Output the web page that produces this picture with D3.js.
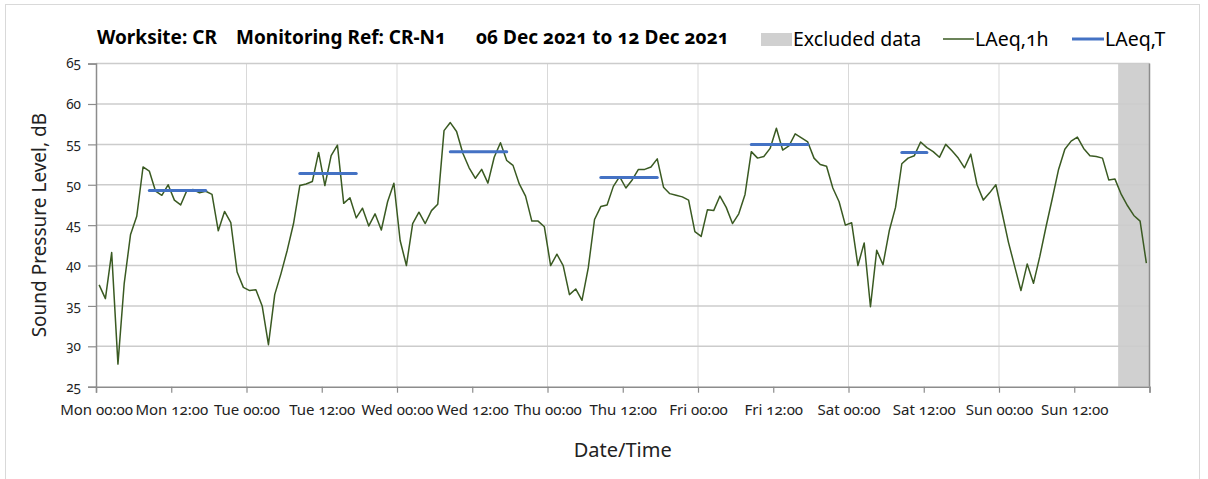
<!DOCTYPE html>
<html>
<head>
<meta charset="utf-8">
<script src="https://cdn.jsdelivr.net/npm/d3@7"></script>
<style>
  html, body { margin: 0; padding: 0; background: #fff; }
  svg text { font-family: "Noto Sans", "Open Sans", sans-serif; font-variant-numeric: oldstyle-nums; }
</style>
</head>
<body>
<svg id="chart" width="1208" height="479"></svg>
<script>
// Hourly LAeq,1h values (dB), starting Mon 06 Dec 2021 00:00
const laeq1h = [
  37.6, 35.9, 41.6, 27.8, 37.8, 43.8, 46.1, 52.2, 51.7, 49.2,
  48.7, 50.0, 48.1, 47.5, 49.3, 49.4, 49.0, 49.2, 48.8, 44.3,
  46.7, 45.3, 39.2, 37.3, 36.9, 37.0, 35.0, 30.2, 36.4, 39.0,
  41.9, 45.2, 49.9, 50.1, 50.4, 54.0, 49.9, 53.6, 54.9, 47.7,
  48.4, 45.9, 47.1, 44.9, 46.4, 44.4, 47.9, 50.2, 43.1, 40.0,
  45.2, 46.6, 45.2, 46.8, 47.6, 56.7, 57.7, 56.6, 53.9, 52.1,
  50.8, 51.9, 50.2, 53.4, 55.2, 53.0, 52.4, 50.1, 48.6, 45.5,
  45.5, 44.8, 40.0, 41.4, 40.0, 36.4, 37.1, 35.7, 39.7, 45.7,
  47.3, 47.5, 49.8, 51.0, 49.6, 50.6, 51.9, 51.9, 52.2, 53.2,
  49.7, 48.9, 48.7, 48.5, 48.1, 44.2, 43.6, 46.9, 46.8, 48.6,
  47.2, 45.2, 46.4, 48.8, 54.1, 53.3, 53.5, 54.5, 57.0, 54.3,
  54.8, 56.3, 55.8, 55.3, 53.3, 52.5, 52.3, 49.6, 47.9, 45.0,
  45.3, 40.0, 42.8, 34.9, 41.9, 40.1, 44.3, 47.2, 52.6, 53.3,
  53.6, 55.3, 54.6, 54.1, 53.4, 55.0, 54.2, 53.3, 52.1, 53.8,
  50.0, 48.1, 49.0, 50.0, 46.5, 42.9, 39.9, 36.9, 40.2, 37.8,
  41.1, 44.8, 48.3, 51.9, 54.4, 55.4, 55.9, 54.5, 53.6, 53.5,
  53.3, 50.6, 50.7, 48.8, 47.4, 46.2, 45.5, 40.3
];

// Period LAeq,T: first hour, end hour (exclusive), level (dB)
const laeqTStart = [8, 32, 56, 80, 104, 128];
const laeqTEnd   = [18, 42, 66, 90, 114, 133];
const laeqTValue = [49.3, 51.4, 54.1, 50.9, 55.0, 54.0];

// Excluded data window, hours from start
const excludedHours = [163, 168];

const yTicks = [25, 30, 35, 40, 45, 50, 55, 60, 65];

const startDate = new Date(2021, 11, 6, 0, 0);
const HOUR = 3600 * 1000;
const hourToDate = h => new Date(startDate.getTime() + h * HOUR);

const titleParts = [
  { text: "Worksite: CR", x: 97 },
  { text: "Monitoring Ref: CR-N1", x: 236 },
  { text: "06 Dec 2021 to 12 Dec 2021", x: 476 }
];

const svg = d3.select("#chart");

// outer chart frame
svg.append("rect")
  .attr("x", 5.5).attr("y", 4.5)
  .attr("width", 1194).attr("height", 480)
  .attr("fill", "#fff").attr("stroke", "#d9d9d9").attr("stroke-width", 1);

const plot = { left: 96, right: 1149.5, top: 63.6, bottom: 386.7 };

const x = d3.scaleTime()
  .domain([startDate, hourToDate(168)])
  .range([plot.left, plot.right]);

const y = d3.scaleLinear()
  .domain([25, 65])
  .range([plot.bottom, plot.top]);

// excluded data shading
svg.append("rect")
  .attr("x", x(hourToDate(excludedHours[0])))
  .attr("y", plot.top)
  .attr("width", x(hourToDate(excludedHours[1])) - x(hourToDate(excludedHours[0])))
  .attr("height", plot.bottom - plot.top)
  .attr("fill", "#d0d0d0");

// vertical gridlines at each midnight
const dayTicks = d3.range(24, 168, 24).map(hourToDate);
svg.append("g").selectAll("line").data(dayTicks).join("line")
  .attr("x1", d => x(d)).attr("x2", d => x(d))
  .attr("y1", plot.top).attr("y2", plot.bottom)
  .attr("stroke", "#d9d9d9").attr("stroke-width", 1);

// horizontal gridlines
svg.append("g").selectAll("line").data(yTicks.slice(1)).join("line")
  .attr("x1", plot.left).attr("x2", plot.right)
  .attr("y1", d => y(d)).attr("y2", d => y(d))
  .attr("stroke", "#cccccc").attr("stroke-width", 1.5);

// right border of plot area
svg.append("line")
  .attr("x1", plot.right).attr("x2", plot.right)
  .attr("y1", plot.top).attr("y2", plot.bottom)
  .attr("stroke", "#8c8c8c").attr("stroke-width", 1.5);

// y axis
const yAxis = d3.axisLeft(y).tickValues(yTicks).tickSize(8).tickPadding(7).tickFormat(d3.format("d"));
const gy = svg.append("g").attr("transform", `translate(${plot.left},0)`).call(yAxis);
gy.select(".domain").attr("stroke", "#8c8c8c").attr("stroke-width", 1.5);
gy.selectAll(".tick line").attr("stroke", "#8c8c8c").attr("stroke-width", 1.2);
gy.selectAll(".tick text").attr("font-size", 13.5).attr("fill", "#222");

// x axis, 12-hour ticks
const xTickDates = d3.range(0, 169, 12).map(hourToDate);
const fmt = d3.timeFormat("%a %H:%M");
const xAxis = d3.axisBottom(x).tickValues(xTickDates).tickSize(6).tickPadding(12)
  .tickFormat((d, i) => i < xTickDates.length - 1 ? fmt(d) : "");
const gx = svg.append("g").attr("transform", `translate(0,${plot.bottom})`).call(xAxis);
gx.select(".domain").attr("stroke", "#8c8c8c").attr("stroke-width", 1.5);
gx.selectAll(".tick line").attr("stroke", "#8c8c8c").attr("stroke-width", 1.2);
gx.selectAll(".tick text").attr("font-size", 15).attr("fill", "#222");

// LAeq,1h line (values at the middle of each hour)
const line = d3.line()
  .x((d, i) => x(hourToDate(i + 0.5)))
  .y(d => y(d));
svg.append("path")
  .datum(laeq1h)
  .attr("d", line)
  .attr("fill", "none")
  .attr("stroke", "#3a5a22")
  .attr("stroke-width", 1.5)
  .attr("stroke-linejoin", "round");

// LAeq,T period bars
svg.append("g").selectAll("line").data(laeqTValue).join("line")
  .attr("x1", (d, i) => x(hourToDate(laeqTStart[i] + 0.5)))
  .attr("x2", (d, i) => x(hourToDate(laeqTEnd[i] - 0.5)))
  .attr("y1", d => y(d)).attr("y2", d => y(d))
  .attr("stroke", "#4472c4").attr("stroke-width", 3)
  .attr("stroke-linecap", "round");

// title
svg.append("g").selectAll("text").data(titleParts).join("text")
  .attr("x", d => d.x).attr("y", 43.5)
  .attr("font-size", 19).attr("font-weight", "bold").attr("fill", "#000")
  .text(d => d.text);

// legend
const lg = svg.append("g");
lg.append("rect").attr("x", 761).attr("y", 33).attr("width", 31).attr("height", 13).attr("fill", "#d0d0d0");
lg.append("text").attr("x", 793).attr("y", 45.5).attr("font-size", 19.5).text("Excluded data");
lg.append("line").attr("x1", 943).attr("x2", 974).attr("y1", 39).attr("y2", 39)
  .attr("stroke", "#3a5a22").attr("stroke-width", 1.5);
lg.append("text").attr("x", 975).attr("y", 45.5).attr("font-size", 19.5).text("LAeq,1h");
lg.append("line").attr("x1", 1072).attr("x2", 1104).attr("y1", 39).attr("y2", 39)
  .attr("stroke", "#4472c4").attr("stroke-width", 3);
lg.append("text").attr("x", 1105).attr("y", 45.5).attr("font-size", 19.5).text("LAeq,T");

// axis titles
svg.append("text")
  .attr("transform", `translate(46,${(plot.top + plot.bottom) / 2}) rotate(-90)`)
  .attr("text-anchor", "middle").attr("font-size", 19).attr("fill", "#222")
  .text("Sound Pressure Level, dB");

svg.append("text")
  .attr("x", (plot.left + plot.right) / 2).attr("y", 457)
  .attr("text-anchor", "middle").attr("font-size", 20).attr("fill", "#222")
  .text("Date/Time");
</script>
</body>
</html>
